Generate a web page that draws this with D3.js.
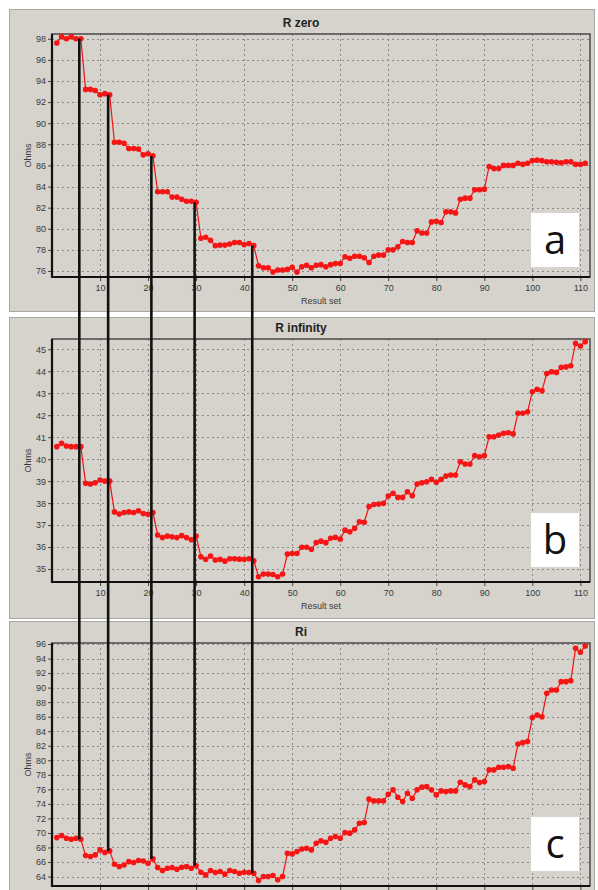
<!DOCTYPE html>
<html>
<head>
<meta charset="utf-8">
<script src="https://cdn.jsdelivr.net/npm/d3@7"></script>
<style>
  html, body { margin: 0; padding: 0; background: #ffffff; }
  svg { display: block; font-family: "Liberation Sans", Arial, sans-serif; }
</style>
</head>
<body>
<div id="chart"></div>
<script>
// values per result set (1..111)
const rZero = [
  97.6, 98.2, 98.0, 98.2, 98.0, 98.0, 93.2, 93.2, 93.1, 92.7,
  92.8, 92.7, 88.2, 88.2, 88.1, 87.6, 87.6, 87.55, 87.0, 87.1,
  86.9, 83.5, 83.5, 83.5, 83.0, 83.0, 82.8, 82.6, 82.6, 82.5,
  79.1, 79.2, 78.9, 78.4, 78.45, 78.45, 78.55, 78.7, 78.7, 78.5,
  78.6, 78.4, 76.5, 76.3, 76.3, 75.9, 76.1, 76.1, 76.15, 76.35,
  75.9, 76.4, 76.55, 76.3, 76.55, 76.6, 76.4, 76.6, 76.7, 76.7,
  77.35, 77.2, 77.4, 77.4, 77.25, 76.8, 77.4, 77.5, 77.5, 78.0,
  78.0, 78.3, 78.8, 78.7, 78.7, 79.8, 79.6, 79.6, 80.65, 80.7,
  80.6, 81.6, 81.6, 81.5, 82.8, 82.9, 82.9, 83.7, 83.7, 83.75,
  85.9, 85.7, 85.7, 86.0, 86.0, 86.0, 86.2, 86.1, 86.2, 86.45,
  86.5, 86.45, 86.35, 86.35, 86.3, 86.25, 86.35, 86.35, 86.1, 86.1, 86.2
];
const rInfinity = [
  40.57, 40.72, 40.6, 40.57, 40.57, 40.57, 38.9, 38.87, 38.93, 39.05,
  39.0, 39.0, 37.6, 37.5, 37.57, 37.6, 37.57, 37.65, 37.53, 37.49,
  37.57, 36.55, 36.43, 36.5, 36.47, 36.43, 36.52, 36.43, 36.33, 36.5,
  35.56, 35.44, 35.59, 35.41, 35.44, 35.36, 35.47, 35.47, 35.45, 35.44,
  35.47, 35.37, 34.65, 34.77, 34.77, 34.75, 34.65, 34.77, 35.68, 35.71,
  35.71, 35.99, 35.99, 35.9, 36.2, 36.27, 36.2, 36.4, 36.44, 36.36,
  36.77, 36.7, 36.85, 37.15, 37.13, 37.84, 37.94, 37.96, 37.99, 38.32,
  38.45, 38.26, 38.26, 38.52, 38.34, 38.87, 38.93, 38.97, 39.08, 38.95,
  39.08, 39.23, 39.28, 39.28, 39.88, 39.78, 39.78, 40.16, 40.11, 40.16,
  41.02, 41.02, 41.1, 41.18, 41.2, 41.15, 42.09, 42.09, 42.16, 43.07,
  43.18, 43.12, 43.9, 43.98, 43.95, 44.18, 44.2, 44.25, 45.27, 45.15, 45.35
];
const ri = [
  69.36, 69.64, 69.28, 69.14, 69.28, 69.14, 66.89, 66.75, 66.98, 67.67,
  67.3, 67.53, 65.7, 65.38, 65.6, 66.06, 65.93, 66.2, 66.15, 65.84,
  66.43, 65.24, 64.83, 65.15, 65.24, 65.0, 65.29, 65.38, 65.15, 65.47,
  64.6, 64.23, 64.83, 64.55, 64.69, 64.33, 64.83, 64.69, 64.46, 64.6,
  64.55, 64.46, 63.45, 64.0, 64.0, 64.14, 63.55, 64.0, 67.2, 67.12,
  67.44, 67.8, 67.9, 67.67, 68.59, 68.91, 68.73, 69.28, 69.5, 69.28,
  70.05, 69.97, 70.42, 71.34, 71.43, 74.65, 74.41, 74.41, 74.41, 75.33,
  75.93, 74.92, 74.32, 75.47, 74.78, 75.93, 76.3, 76.38, 75.93, 75.24,
  75.79, 75.69, 75.79, 75.79, 76.98, 76.61, 76.38, 77.3, 76.93, 77.07,
  78.68, 78.68, 79.05, 79.05, 79.13, 78.91, 82.25, 82.43, 82.57, 85.87,
  86.24, 86.0, 89.23, 89.68, 89.68, 90.82, 90.82, 90.96, 95.41, 94.86, 95.73
];

const titles = ['R zero', 'R infinity', 'Ri'];
const letters = ['a', 'b', 'c'];
const xTicks = [10, 20, 30, 40, 50, 60, 70, 80, 90, 100, 110];
const yTicksA = [76, 78, 80, 82, 84, 86, 88, 90, 92, 94, 96, 98];
const yTicksB = [35, 36, 37, 38, 39, 40, 41, 42, 43, 44, 45];
const yTicksC = [64, 66, 68, 70, 72, 74, 76, 78, 80, 82, 84, 86, 88, 90, 92, 94, 96];
const yDomains = [[75.43, 98.45], [34.41, 45.47], [62.7, 96.14]];
// result sets where the step changes are marked
const markedSets = [6, 12, 21, 30, 42];

const W = 598, H = 890;
const svg = d3.select('#chart').append('svg').attr('width', W).attr('height', H);

// the bottom panel runs past the picture, so its x labels are not drawn
const panelLayout = [
  { top: 9, height: 302, plotTop: 34, plotBottom: 277, boxY: 213, xLabels: true },
  { top: 317, height: 301, plotTop: 339, plotBottom: 582, boxY: 513, xLabels: true },
  { top: 621, height: 290, plotTop: 643, plotBottom: 886, boxY: 817, xLabels: false }
];
const series = [rZero, rInfinity, ri];
const yTicks = [yTicksA, yTicksB, yTicksC];

const x = d3.scaleLinear().domain([0, 112]).range([52, 590]);
const yScales = [];

panelLayout.forEach((p, k) => {
  const g = svg.append('g');
  const y = d3.scaleLinear().domain(yDomains[k]).range([p.plotBottom, p.plotTop]);
  yScales.push(y);

  g.append('rect')
    .attr('x', 9.5).attr('y', p.top + 0.5)
    .attr('width', 585).attr('height', p.height)
    .attr('fill', '#d6d3cc')
    .attr('stroke', '#a9a7a2');

  g.append('text')
    .attr('x', 301).attr('y', p.plotTop - 7)
    .attr('text-anchor', 'middle')
    .attr('font-size', 12).attr('font-weight', 'bold')
    .attr('fill', '#222')
    .text(titles[k]);

  // grid
  g.append('g').selectAll('line').data(yTicks[k]).join('line')
    .attr('x1', x.range()[0]).attr('x2', x.range()[1])
    .attr('y1', d => Math.round(y(d)) + 0.5).attr('y2', d => Math.round(y(d)) + 0.5)
    .attr('stroke', '#8c8a86').attr('stroke-width', 1).attr('stroke-dasharray', '2,3');
  g.append('g').selectAll('line').data(xTicks).join('line')
    .attr('x1', d => Math.round(x(d)) + 0.5).attr('x2', d => Math.round(x(d)) + 0.5)
    .attr('y1', p.plotTop).attr('y2', p.plotBottom)
    .attr('stroke', '#8c8a86').attr('stroke-width', 1).attr('stroke-dasharray', '2,3');

  // axes
  const yAxis = g.append('g')
    .attr('transform', `translate(${x.range()[0]},0)`)
    .call(d3.axisLeft(y).tickValues(yTicks[k]).tickSize(4).tickPadding(2));
  const xAxis = g.append('g')
    .attr('transform', `translate(0,${p.plotBottom})`)
    .call(d3.axisBottom(x).tickValues(xTicks).tickSize(4).tickPadding(4));
  [yAxis, xAxis].forEach(a => {
    a.select('.domain').remove();
    a.selectAll('line').attr('stroke', '#444');
    a.selectAll('text').attr('fill', '#3a3a3a').attr('font-size', 9)
      .attr('font-family', '"Liberation Sans", Arial, sans-serif');
  });
  if (!p.xLabels) xAxis.selectAll('text').remove();

  // plot frame
  g.append('rect')
    .attr('x', x.range()[0]).attr('y', p.plotTop)
    .attr('width', x.range()[1] - x.range()[0]).attr('height', p.plotBottom - p.plotTop)
    .attr('fill', 'none').attr('stroke', '#4a4a4a').attr('stroke-width', 1.5);
  g.append('path')
    .attr('d', `M${x.range()[0]},${p.plotTop}V${p.plotBottom}H${x.range()[1]}`)
    .attr('fill', 'none').attr('stroke', '#111').attr('stroke-width', 2.2);

  g.append('text')
    .attr('transform', `translate(31,${(p.plotTop + p.plotBottom) / 2}) rotate(-90)`)
    .attr('text-anchor', 'middle')
    .attr('font-size', 9).attr('fill', '#3a3a3a')
    .text('Ohms');
  if (p.xLabels) {
    g.append('text')
      .attr('x', (x.range()[0] + x.range()[1]) / 2).attr('y', p.plotBottom + 27)
      .attr('text-anchor', 'middle')
      .attr('font-size', 9).attr('fill', '#3a3a3a')
      .text('Result set');
  }

  // series
  const line = d3.line().x((d, i) => x(i + 1)).y(d => y(d));
  g.append('path')
    .datum(series[k])
    .attr('fill', 'none')
    .attr('stroke', '#f01212')
    .attr('stroke-width', 1.2)
    .attr('d', line);
  g.append('g').selectAll('circle').data(series[k]).join('circle')
    .attr('cx', (d, i) => x(i + 1))
    .attr('cy', d => y(d))
    .attr('r', 2.8)
    .attr('fill', '#f51515');

  // letter label
  g.append('rect')
    .attr('x', 531).attr('y', p.boxY)
    .attr('width', 48).attr('height', 54)
    .attr('fill', '#ffffff');
  g.append('text')
    .attr('x', 555).attr('y', p.boxY + 41)
    .attr('text-anchor', 'middle')
    .attr('font-family', '"Open Sans", "Noto Sans", sans-serif')
    .attr('font-size', 40).attr('fill', '#111')
    .text(letters[k]);
});

// vertical markers linking the step changes in R zero to Ri
svg.append('g').selectAll('line').data(markedSets).join('line')
  .attr('x1', d => x(d) - 1.5).attr('x2', d => x(d) - 1.5)
  .attr('y1', d => yScales[0](rZero[d - 1]))
  .attr('y2', d => yScales[2](ri[d - 1]))
  .attr('stroke', '#111')
  .attr('stroke-width', 2.6);
</script>
</body>
</html>
